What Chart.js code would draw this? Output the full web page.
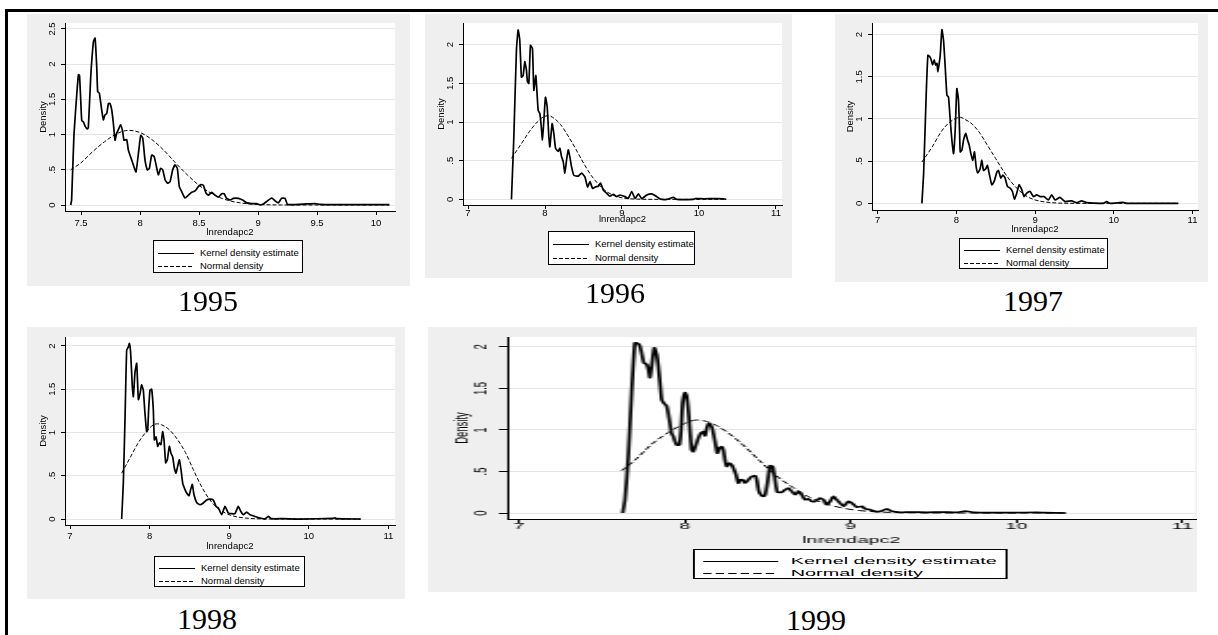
<!DOCTYPE html>
<html>
<head>
<meta charset="utf-8">
<script src="https://cdn.jsdelivr.net/npm/chart.js@4"></script>
<style>
body { margin: 0; width: 1218px; height: 635px; overflow: hidden; position: relative; background: #fff;
       font-family: "Liberation Sans", Arial, sans-serif; }
.frameTop { position: absolute; left: 5px; top: 9px; width: 1213px; height: 3px; background: #000; }
.frameLeft { position: absolute; left: 5px; top: 9px; width: 3px; height: 626px; background: #000; }
.panel { position: absolute; background: #efefef; }
.panel canvas { position: absolute; left: 0; top: 0; }
.legend { position: absolute; background: #fff; border: 1px solid #000; box-sizing: border-box; }
.legend svg { position: absolute; left: 0; top: 0; }
.legend span { position: absolute; font-size: 9.5px; line-height: 12px; white-space: nowrap; color: #000; }
.year { position: absolute; font-family: "Liberation Serif", "Times New Roman", serif; font-size: 30px;
        transform: translate(-50%, -50%); color: #000; }
</style>
</head>
<body>
<div class="frameTop"></div>
<div class="frameLeft"></div>
<script>
// ---- data: [lnrendapc2, density] ----
var years = ['1995', '1996', '1997', '1998', '1999'];

var kde1995 = [[7.412,0],[7.42,0.07],[7.44,1.0],[7.465,1.6],[7.478,1.85],[7.487,1.84],[7.497,1.5],[7.506,1.2],[7.52,1.18],[7.534,1.12],[7.554,1.08],[7.562,1.1],[7.582,1.82],[7.605,2.32],[7.619,2.37],[7.633,1.96],[7.641,1.61],[7.655,1.59],[7.675,1.35],[7.689,1.21],[7.703,1.28],[7.718,1.3],[7.732,1.44],[7.746,1.44],[7.76,1.35],[7.774,1.16],[7.788,0.92],[7.802,1.02],[7.816,1.07],[7.836,1.14],[7.853,1.04],[7.864,0.92],[7.887,0.93],[7.901,0.78],[7.929,0.64],[7.949,0.54],[7.966,0.47],[7.986,0.73],[8.006,0.99],[8.023,0.95],[8.042,0.64],[8.062,0.5],[8.079,0.52],[8.099,0.71],[8.119,0.69],[8.136,0.57],[8.155,0.43],[8.175,0.52],[8.192,0.5],[8.212,0.36],[8.232,0.31],[8.254,0.33],[8.277,0.5],[8.297,0.57],[8.316,0.52],[8.333,0.26],[8.353,0.19],[8.381,0.1],[8.41,0.14],[8.438,0.18],[8.466,0.2],[8.494,0.26],[8.517,0.29],[8.537,0.28],[8.559,0.17],[8.579,0.14],[8.607,0.18],[8.636,0.14],[8.664,0.11],[8.692,0.16],[8.712,0.16],[8.734,0.095],[8.763,0.07],[8.791,0.095],[8.833,0.095],[8.87,0.07],[8.904,0.03],[8.946,0.02],[8.989,0.02],[9.017,0],[9.045,0.014],[9.073,0.05],[9.116,0.1],[9.144,0.06],[9.172,0.03],[9.2,0.095],[9.229,0.095],[9.249,0.01],[9.3,0.005],[9.412,0.015],[9.483,0.02],[9.525,0.009],[9.638,0.005],[9.864,0.005],[10.113,0.005]];
var norm1995 = [[7.412,0.5],[7.5,0.6],[7.6,0.76],[7.7,0.9],[7.8,1.01],[7.9,1.06],[8.0,1.03],[8.1,0.93],[8.2,0.78],[8.3,0.6],[8.4,0.43],[8.5,0.28],[8.6,0.17],[8.7,0.09],[8.8,0.045],[8.9,0.02],[9.0,0.008],[9.2,0.001],[9.5,0],[10.113,0]];

var kde1996 = [[7.564,0],[7.594,0.77],[7.629,1.93],[7.651,2.19],[7.672,2.06],[7.694,1.58],[7.716,1.6],[7.738,1.78],[7.759,1.67],[7.772,1.52],[7.79,1.5],[7.811,1.99],[7.837,1.95],[7.855,1.41],[7.881,1.6],[7.911,1.15],[7.933,1.11],[7.946,1.0],[7.967,0.77],[7.985,1.02],[8.006,1.32],[8.028,1.2],[8.05,0.81],[8.063,0.68],[8.093,0.98],[8.115,0.85],[8.137,0.66],[8.171,0.62],[8.193,0.66],[8.215,0.55],[8.236,0.49],[8.258,0.34],[8.28,0.51],[8.302,0.64],[8.323,0.55],[8.345,0.42],[8.375,0.31],[8.432,0.3],[8.475,0.34],[8.518,0.29],[8.553,0.16],[8.584,0.23],[8.618,0.14],[8.653,0.16],[8.692,0.17],[8.722,0.21],[8.757,0.12],[8.8,0.08],[8.844,0.04],[8.887,0.065],[8.931,0.035],[8.974,0.056],[9.039,0.035],[9.082,0.013],[9.126,0.1],[9.169,0.013],[9.213,0.07],[9.256,0.01],[9.321,0.056],[9.386,0.07],[9.451,0.035],[9.495,0.004],[9.581,0],[9.668,0.026],[9.711,0],[9.928,0],[9.95,0.01],[10.058,0.008],[10.319,0.008],[10.354,0]];
var norm1996 = [[7.564,0.53],[7.7,0.73],[7.8,0.88],[7.9,1.0],[8.0,1.075],[8.05,1.08],[8.1,1.06],[8.2,0.97],[8.3,0.82],[8.4,0.65],[8.5,0.47],[8.6,0.31],[8.7,0.19],[8.8,0.1],[8.9,0.05],[9.0,0.02],[9.2,0.003],[9.5,0],[10.354,0]];

var kde1997 = [[7.562,0],[7.584,0.355],[7.617,1.3],[7.638,1.755],[7.66,1.74],[7.681,1.7],[7.698,1.64],[7.719,1.7],[7.736,1.64],[7.753,1.66],[7.765,1.56],[7.782,1.66],[7.795,1.755],[7.816,2.06],[7.837,1.93],[7.858,1.62],[7.88,1.28],[7.9,1.26],[7.922,0.99],[7.943,0.75],[7.964,0.59],[7.985,0.87],[8.006,1.36],[8.027,1.22],[8.04,0.87],[8.049,0.61],[8.07,0.63],[8.091,0.75],[8.12,0.83],[8.142,0.75],[8.163,0.69],[8.184,0.59],[8.209,0.51],[8.23,0.61],[8.252,0.43],[8.273,0.36],[8.302,0.41],[8.323,0.51],[8.345,0.39],[8.374,0.41],[8.395,0.45],[8.421,0.335],[8.45,0.22],[8.48,0.26],[8.514,0.37],[8.535,0.39],[8.564,0.3],[8.59,0.335],[8.619,0.3],[8.649,0.2],[8.683,0.18],[8.712,0.14],[8.738,0.05],[8.767,0.12],[8.797,0.22],[8.831,0.16],[8.86,0.08],[8.894,0.12],[8.937,0.14],[8.979,0.08],[9.021,0.1],[9.063,0.08],[9.114,0.08],[9.169,0.04],[9.211,0.1],[9.254,0.04],[9.317,0.07],[9.381,0.02],[9.465,0.03],[9.528,0.008],[9.592,0.03],[9.655,0.008],[9.867,0],[9.909,0.02],[9.951,0],[10.121,0.012],[10.163,0],[10.82,0]];
var norm1997 = [[7.562,0.49],[7.7,0.68],[7.8,0.84],[7.9,0.95],[8.0,1.01],[8.05,1.02],[8.1,1.0],[8.2,0.94],[8.3,0.83],[8.4,0.68],[8.5,0.53],[8.6,0.38],[8.7,0.25],[8.8,0.15],[8.9,0.08],[9.0,0.04],[9.1,0.02],[9.3,0.003],[9.6,0],[10.82,0]];

var kde1998 = [[7.649,0],[7.67,0.415],[7.691,1.15],[7.712,1.95],[7.733,1.99],[7.746,2.03],[7.762,1.92],[7.783,1.53],[7.796,1.415],[7.817,1.7],[7.838,1.8],[7.859,1.38],[7.88,1.45],[7.9,1.55],[7.921,1.49],[7.942,1.22],[7.963,1.01],[7.976,1.03],[7.988,1.26],[8.005,1.49],[8.026,1.5],[8.047,1.26],[8.06,0.915],[8.081,0.95],[8.102,0.84],[8.123,0.88],[8.143,0.86],[8.164,1.01],[8.181,0.915],[8.202,0.65],[8.223,0.685],[8.248,0.84],[8.269,0.76],[8.29,0.72],[8.311,0.59],[8.332,0.53],[8.353,0.61],[8.374,0.685],[8.395,0.57],[8.416,0.415],[8.445,0.34],[8.466,0.3],[8.495,0.27],[8.516,0.34],[8.537,0.4],[8.558,0.28],[8.592,0.19],[8.633,0.165],[8.675,0.185],[8.717,0.22],[8.759,0.23],[8.801,0.22],[8.835,0.146],[8.864,0.127],[8.906,0.05],[8.948,0.146],[8.99,0.07],[9.031,0.062],[9.073,0.062],[9.115,0.146],[9.145,0.09],[9.178,0.05],[9.22,0.08],[9.262,0.05],[9.325,0.03],[9.387,0.012],[9.45,0],[9.492,0.03],[9.534,0.004],[9.68,0.004],[9.89,0],[10.309,0.008],[10.33,0.015],[10.351,0.004],[10.652,0]];
var norm1998 = [[7.649,0.53],[7.75,0.7],[7.85,0.87],[7.95,1.0],[8.05,1.09],[8.1,1.1],[8.15,1.09],[8.25,1.03],[8.35,0.92],[8.45,0.77],[8.55,0.57],[8.65,0.38],[8.75,0.23],[8.85,0.13],[8.95,0.07],[9.05,0.035],[9.2,0.012],[9.4,0.002],[9.7,0],[10.652,0]];

var kde1999 = [[7.624,0],[7.638,0.16],[7.658,0.68],[7.678,1.45],[7.698,2.05],[7.718,2.04],[7.728,2.01],[7.738,1.93],[7.752,1.81],[7.769,1.79],[7.779,1.73],[7.789,1.63],[7.799,1.77],[7.815,1.99],[7.829,1.91],[7.839,1.77],[7.849,1.57],[7.859,1.37],[7.869,1.33],[7.879,1.31],[7.889,1.29],[7.899,1.2],[7.909,1.08],[7.919,0.96],[7.93,0.92],[7.94,0.86],[7.95,0.82],[7.966,0.82],[7.976,1.0],[7.986,1.33],[8.0,1.45],[8.01,1.41],[8.02,1.24],[8.03,1.0],[8.04,0.76],[8.05,0.74],[8.066,0.82],[8.08,0.9],[8.095,0.96],[8.111,0.98],[8.121,0.93],[8.131,1.02],[8.143,1.08],[8.155,1.06],[8.167,1.0],[8.181,0.86],[8.195,0.72],[8.207,0.78],[8.221,0.8],[8.231,0.76],[8.241,0.64],[8.252,0.56],[8.268,0.6],[8.282,0.58],[8.292,0.54],[8.308,0.46],[8.322,0.36],[8.332,0.4],[8.348,0.4],[8.362,0.36],[8.382,0.4],[8.402,0.44],[8.423,0.45],[8.433,0.4],[8.443,0.28],[8.457,0.22],[8.473,0.2],[8.483,0.22],[8.497,0.36],[8.513,0.57],[8.529,0.56],[8.543,0.4],[8.557,0.25],[8.584,0.25],[8.604,0.28],[8.624,0.3],[8.644,0.26],[8.664,0.22],[8.684,0.26],[8.704,0.22],[8.724,0.16],[8.744,0.17],[8.765,0.14],[8.785,0.14],[8.815,0.18],[8.835,0.16],[8.855,0.1],[8.875,0.14],[8.895,0.2],[8.915,0.16],[8.935,0.12],[8.956,0.08],[8.986,0.14],[9.006,0.12],[9.036,0.07],[9.067,0.08],[9.087,0.05],[9.117,0.04],[9.147,0.02],[9.177,0.02],[9.218,0.05],[9.248,0.02],[9.298,0.008],[9.359,0.012],[9.46,0.008],[9.56,0.012],[9.641,0.008],[9.692,0.024],[9.742,0.008],[9.964,0.004],[10.125,0.008],[10.165,0.004],[10.296,0]];
var norm1999 = [[7.618,0.51],[7.7,0.64],[7.8,0.83],[7.9,0.97],[8.0,1.08],[8.07,1.12],[8.15,1.09],[8.25,0.98],[8.35,0.82],[8.45,0.63],[8.55,0.45],[8.65,0.31],[8.75,0.19],[8.85,0.11],[8.95,0.06],[9.05,0.03],[9.2,0.01],[9.4,0.002],[9.7,0],[10.296,0]];

// tick values and labels
var xTicks1995 = [7.5, 8, 8.5, 9, 9.5, 10];
var xLabels1995 = ['7.5', '8', '8.5', '9', '9.5', '10'];
var yTicks1995 = [0, 0.5, 1, 1.5, 2, 2.5];
var yLabels1995 = ['0', '.5', '1', '1.5', '2', '2.5'];
var xTicks = [7, 8, 9, 10, 11];
var xLabels = ['7', '8', '9', '10', '11'];
var yTicks = [0, 0.5, 1, 1.5, 2];
var yLabels = ['0', '.5', '1', '1.5', '2'];

var xTitle = 'lnrendapc2';
var yTitle = 'Density';
var legendLabels = ['Kernel density estimate', 'Normal density'];

// ---- layout of each panel (page px); area = plot region inside the grey box ----
var panels = [
  { year: years[0], kde: kde1995, norm: norm1995, xt: xTicks1995, xl: xLabels1995, yt: yTicks1995, yl: yLabels1995,
    left: 27, top: 14, w: 383, h: 272, area: [38, 9, 368, 197], xr: [7.364, 10.161], yr: [-0.085, 2.585],
    xLab: 12, xTit: 21, legend: [126, 226, 150, 33], yearPos: [208, 301] },
  { year: years[1], kde: kde1996, norm: norm1996, xt: xTicks, xl: xLabels, yt: yTicks, yl: yLabels,
    left: 425, top: 14, w: 367, h: 264, area: [38, 9, 357, 191], xr: [6.935, 11.078], yr: [-0.073, 2.28],
    xLab: 8.5, xTit: 14, legend: [123, 217, 147, 34], yearPos: [615, 293] },
  { year: years[2], kde: kde1997, norm: norm1997, xt: xTicks, xl: xLabels, yt: yTicks, yl: yLabels,
    left: 835, top: 14, w: 373, h: 268, area: [37, 9, 363, 196], xr: [6.928, 11.07], yr: [-0.079, 2.138],
    xLab: 10, xTit: 19, legend: [124, 224, 149, 31], yearPos: [1033, 301] },
  { year: years[3], kde: kde1998, norm: norm1998, xt: xTicks, xl: xLabels, yt: yTicks, yl: yLabels,
    left: 27, top: 327, w: 378, h: 272, area: [38, 10, 368, 198], xr: [6.937, 11.084], yr: [-0.069, 2.104],
    xLab: 11.7, xTit: 21.7, legend: [127, 229, 151, 31], yearPos: [207, 619] },
  // 1999 is the same kind of graph stretched sideways in the source
  { year: years[4], kde: kde1999, norm: norm1999, xt: xTicks, xl: xLabels, yt: yTicks, yl: yLabels,
    left: 428, top: 327, w: 369, h: 265, area: [38, 10, 368, 192], xr: [6.928, 11.078], yr: [-0.072, 2.12],
    xLab: 7, xTit: 21, legend: [127, 222, 151, 30], yearPos: [816, 620], sx: 2.085 }
];

Chart.defaults.font.family = '"Liberation Sans", Arial, sans-serif';
Chart.defaults.color = '#000';

// white plot region like stata
var plotBg = {
  id: 'plotBg',
  beforeDraw: function(chart) {
    var a = chart.chartArea, c = chart.ctx;
    c.save();
    c.fillStyle = '#fff';
    c.fillRect(a.left, a.top, a.right - a.left, a.bottom - a.top);
    c.restore();
  }
};

function addLegend(div, box) {
  var lg = document.createElement('div');
  lg.className = 'legend';
  lg.style.left = box[0] + 'px';
  lg.style.top = box[1] + 'px';
  lg.style.width = box[2] + 'px';
  lg.style.height = box[3] + 'px';
  var r1 = Math.round(box[3] * 0.36), r2 = Math.round(box[3] * 0.76);
  lg.innerHTML =
    '<svg width="' + box[2] + '" height="' + box[3] + '">' +
    '<line x1="4" x2="40" y1="' + (r1 + 0.5) + '" y2="' + (r1 + 0.5) + '" stroke="#000" stroke-width="1"/>' +
    '<line x1="4" x2="40" y1="' + (r2 + 0.5) + '" y2="' + (r2 + 0.5) + '" stroke="#000" stroke-width="1" stroke-dasharray="4 2"/>' +
    '</svg>' +
    '<span style="left:46px;top:' + (r1 - 6) + 'px">' + legendLabels[0] + '</span>' +
    '<span style="left:46px;top:' + (r2 - 6) + 'px">' + legendLabels[1] + '</span>';
  div.appendChild(lg);
}

panels.forEach(function(p) {
  var div = document.createElement('div');
  div.className = 'panel';
  div.style.left = p.left + 'px';
  div.style.top = p.top + 'px';
  div.style.width = p.w + 'px';
  div.style.height = p.h + 'px';
  if (p.sx) {
    div.style.transform = 'scaleX(' + p.sx + ')';
    div.style.transformOrigin = '0 0';
  }
  var cv = document.createElement('canvas');
  cv.width = p.w;
  cv.height = p.h;
  div.appendChild(cv);
  addLegend(div, p.legend);
  document.body.appendChild(div);

  var yr = document.createElement('div');
  yr.className = 'year';
  yr.textContent = p.year;
  yr.style.left = p.yearPos[0] + 'px';
  yr.style.top = p.yearPos[1] + 'px';
  document.body.appendChild(yr);

  var a = p.area, lh = 9.5 * 1.2, tick = 4;
  var yW = 28, xH = p.xTit + lh / 2;

  new Chart(cv, {
    type: 'line',
    data: {
      datasets: [{
        label: legendLabels[0],
        data: p.kde.map(function(d) { return {x: d[0], y: d[1]}; }),
        borderColor: '#000',
        borderWidth: 1.7,
        pointRadius: 0,
        tension: 0.15,
        fill: false
      }, {
        label: legendLabels[1],
        data: p.norm.map(function(d) { return {x: d[0], y: d[1]}; }),
        borderColor: '#000',
        borderWidth: 1,
        borderDash: [4, 2],
        pointRadius: 0,
        cubicInterpolationMode: 'monotone',
        fill: false
      }]
    },
    options: {
      responsive: false,
      animation: false,
      devicePixelRatio: 1,
      layout: {
        autoPadding: false,
        padding: { left: a[0] - yW, top: a[1], right: p.w - a[2], bottom: p.h - a[3] - xH }
      },
      plugins: { legend: { display: false }, tooltip: { enabled: false } },
      scales: {
        x: {
          type: 'linear',
          min: p.xr[0],
          max: p.xr[1],
          afterBuildTicks: function(s) { s.ticks = p.xt.map(function(v) { return {value: v}; }); },
          afterFit: function(s) { s.height = xH; },
          ticks: {
            autoSkip: false, maxRotation: 0, color: '#000', font: { size: 9.5 },
            padding: p.xLab - tick - lh / 2,
            callback: function(v, i) { return p.xl[i]; }
          },
          grid: { drawOnChartArea: false, tickLength: tick, tickColor: '#000' },
          border: { color: '#000', width: 1 },
          title: { display: true, text: xTitle, color: '#000', font: { size: 9.5 }, padding: { top: 0, bottom: 0 } }
        },
        y: {
          min: p.yr[0],
          max: p.yr[1],
          afterBuildTicks: function(s) { s.ticks = p.yt.map(function(v) { return {value: v}; }); },
          afterFit: function(s) { s.width = yW; },
          ticks: {
            autoSkip: false, minRotation: 90, maxRotation: 90, crossAlign: 'center', color: '#000',
            font: { size: 9.5 }, padding: 12.7 - tick - 6.6,
            callback: function(v, i) { return p.yl[i]; }
          },
          grid: { color: '#e4e4e4', lineWidth: 1, tickLength: tick, tickColor: '#000' },
          border: { color: '#000', width: 1 },
          title: { display: true, text: yTitle, color: '#000', font: { size: 9.5 }, padding: { top: yW - 21.7 - lh / 2, bottom: 0 } }
        }
      }
    },
    plugins: [plotBg]
  });
});
</script>
</body>
</html>
